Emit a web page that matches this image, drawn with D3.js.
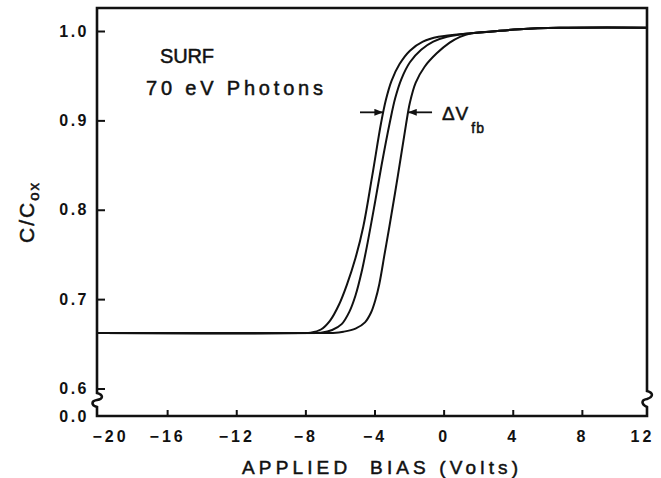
<!DOCTYPE html>
<html><head><meta charset="utf-8">
<script src="https://cdn.jsdelivr.net/npm/d3@7"></script>
<style>
html,body{margin:0;padding:0;background:#fff;}
svg{display:block;}
text{font-family:"Liberation Sans",Arial,Helvetica,sans-serif;fill:#111;}
.bold{font-weight:bold;}
.med{font-weight:normal;stroke:#111;stroke-width:0.5px;}
</style></head><body>
<svg id="chart" width="661" height="478"></svg>
<script>
// ---- data ----
const xTicks = [-20, -16, -12, -8, -4, 0, 4, 8, 12];
const xTickLabels = ["\u221220", "\u221216", "\u221212", "\u22128", "\u22124", "0", "4", "8", "12"];
const yTicks = [0.0, 0.6, 0.7, 0.8, 0.9, 1.0];
const yTickLabels = ["0.0", "0.6", "0.7", "0.8", "0.9", "1.0"];

const curveA = [[-20,0.662],[-8.2,0.662],[-7.7,0.6625],[-7.1,0.666],[-6.57,0.676],[-6.05,0.694],[-5.6,0.716],[-5.1,0.746],[-4.65,0.781],[-4.14,0.837],[-3.62,0.897],[-3.34,0.923],[-3.02,0.944],[-2.55,0.963],[-1.95,0.978],[-1.2,0.988],[-0.3,0.9935],[1.6,0.9975],[2.8,0.9995],[4.4,1.002],[6.7,1.0035],[12,1.0037]];
const curveB = [[-20,0.662],[-7.6,0.662],[-7.1,0.6625],[-6.45,0.6655],[-5.9,0.672],[-5.45,0.686],[-5.1,0.704],[-4.75,0.730],[-4.4,0.763],[-4.0,0.805],[-3.6,0.849],[-3.1,0.899],[-2.8,0.925],[-2.45,0.946],[-1.95,0.965],[-1.3,0.979],[-0.6,0.988],[0.2,0.9935],[1.6,0.9975],[2.8,0.9995],[4.4,1.002],[6.7,1.0035],[12,1.0037]];
const curveC = [[-20,0.662],[-7.0,0.662],[-6.4,0.6622],[-5.8,0.6635],[-5.1,0.667],[-4.55,0.674],[-4.2,0.685],[-3.95,0.699],[-3.72,0.717],[-3.42,0.750],[-3.14,0.781],[-2.64,0.839],[-2.18,0.895],[-1.95,0.920],[-1.62,0.942],[-1.1,0.960],[-0.4,0.975],[0.35,0.987],[0.95,0.9935],[1.6,0.9975],[2.8,0.9995],[4.4,1.002],[6.7,1.0035],[12,1.0037]];
const curves = [curveA, curveB, curveC];

// ΔVfb annotation: arrow level and tail/tip bias values
const arrowLevel = 0.909;
const arrows = [{from: -4.84, to: -3.5}, {from: -0.67, to: -2.06}];
const dvLabel = {v: -0.1, c: 0.9};
const noteLines = ["SURF", "70 eV Photons"];

// ---- layout ----
const svg = d3.select("#chart");
const x = d3.scaleLinear().domain([-20, 12]).range([98, 651]);
const y = d3.scaleLinear().domain([0, 0.6, 1.0]).range([416, 388.5, 31]);
const L = 97, R = 647, T = 8, B = 416;

const defs = svg.append("defs");
defs.append("clipPath").attr("id", "clip")
  .append("rect").attr("x", L).attr("y", T).attr("width", R - L).attr("height", B - T);
defs.append("marker").attr("id", "ah").attr("viewBox", "0 0 10 8")
  .attr("refX", 10).attr("refY", 4).attr("markerWidth", 9).attr("markerHeight", 7)
  .attr("markerUnits", "userSpaceOnUse").attr("orient", "auto")
  .append("path").attr("d", "M0,0 L10,4 L0,8 Z").attr("fill", "#111");

// curves
const line = d3.line().x(d => x(d[0])).y(d => y(d[1])).curve(d3.curveCatmullRom.alpha(0.5));
svg.append("g").attr("clip-path", "url(#clip)")
  .selectAll("path").data(curves).join("path")
  .attr("d", line).attr("fill", "none").attr("stroke", "#111").attr("stroke-width", 2);

// frame with axis breaks
function sq(X, y0) {
  return `L${X},${y0} C${X+7},${y0+2} ${X+6},${y0+6} ${X},${y0+8} C${X-6},${y0+9} ${X-6},${y0+13} ${X},${y0+16}`;
}
function sqUp(X, y0) {
  return `L${X},${y0+14} C${X-6},${y0+12} ${X-6},${y0+8} ${X},${y0+7} C${X+6},${y0+6} ${X+7},${y0+2} ${X},${y0}`;
}
const framePath = `M${L},${T} L${R},${T} ${sq(R, 391)} L${R},${B} L${L},${B} ${sqUp(L, 393)} L${L},${T} Z`;
svg.append("path").attr("d", framePath).attr("fill", "none").attr("stroke", "#111")
  .attr("stroke-width", 2.6).attr("stroke-linejoin", "miter");

// x axis
const gx = svg.append("g").attr("transform", `translate(0,${B})`)
  .call(d3.axisBottom(x).tickValues(xTicks).tickFormat((d, i) => xTickLabels[i])
    .tickSizeInner(-6).tickSizeOuter(0).tickPadding(15));
gx.select(".domain").remove();
gx.selectAll(".tick line").attr("stroke", "#111").attr("stroke-width", 2)
  .filter(d => d === -20 || d === 12).remove();
gx.selectAll(".tick text").attr("class", "bold").attr("font-size", 16).attr("letter-spacing", 3)
  .attr("fill", "#111")
  .attr("dx", d => d === -20 ? 12 : d === 12 ? -9 : 0);
gx.attr("font-family", null).attr("font-size", null);

// y axis
const gy = svg.append("g").attr("transform", `translate(${L},0)`)
  .call(d3.axisLeft(y).tickValues(yTicks).tickFormat((d, i) => yTickLabels[i])
    .tickSizeInner(-8).tickSizeOuter(0).tickPadding(8));
gy.select(".domain").remove();
gy.selectAll(".tick line").attr("stroke", "#111").attr("stroke-width", 2)
  .filter(d => d === 0).remove();
gy.selectAll(".tick text").attr("class", "bold").attr("font-size", 16).attr("letter-spacing", 2.5)
  .attr("fill", "#111");
gy.attr("font-family", null).attr("font-size", null);

// axis titles
svg.append("text").attr("class", "med").attr("x", 242).attr("y", 474).attr("font-size", 19)
  .attr("textLength", 276).attr("lengthAdjust", "spacing")
  .style("white-space", "pre").text("APPLIED  BIAS (Volts)");

const yt = svg.append("text").attr("class", "med").attr("transform", "translate(34,212) rotate(-90)")
  .attr("text-anchor", "middle").attr("font-size", 21).attr("letter-spacing", 2);
yt.append("tspan").text("C/C");
yt.append("tspan").attr("font-size", 15).attr("dy", 5).text("ox");

// notes
svg.append("text").attr("class", "med").attr("x", 160).attr("y", 63).attr("font-size", 20)
  .attr("textLength", 54).attr("lengthAdjust", "spacing").text(noteLines[0]);
svg.append("text").attr("class", "med").attr("x", 146).attr("y", 95).attr("font-size", 20)
  .attr("textLength", 177).attr("lengthAdjust", "spacing").text(noteLines[1]);

// ΔVfb arrows
svg.append("g").selectAll("line").data(arrows).join("line")
  .attr("x1", d => x(d.from)).attr("x2", d => x(d.to))
  .attr("y1", y(arrowLevel)).attr("y2", y(arrowLevel))
  .attr("stroke", "#111").attr("stroke-width", 1.8).attr("marker-end", "url(#ah)");
const dv = svg.append("text").attr("class", "med").attr("x", x(dvLabel.v)).attr("y", y(dvLabel.c))
  .attr("font-size", 19).attr("letter-spacing", 1);
dv.append("tspan").text("\u0394V");
dv.append("tspan").attr("font-size", 14).attr("dy", 13).attr("dx", 2).text("fb");
</script>
</body></html>
